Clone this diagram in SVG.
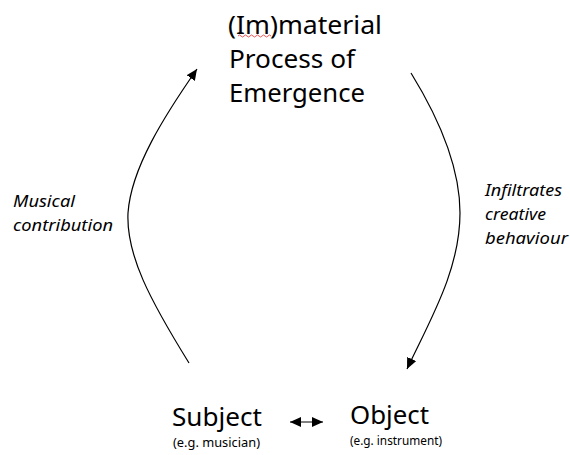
<svg xmlns="http://www.w3.org/2000/svg" width="570" height="455" viewBox="0 0 570 455">
<style>
text{font-family:"Noto Sans","Open Sans","Liberation Sans",sans-serif;fill:#000}
.big{font-size:26px}
.lbl{font-size:17px;font-style:italic}
.sub{font-size:12px}
.conn{fill:none;stroke:#000;stroke-width:1.2}
</style>
<defs>
<marker id="ah" markerUnits="userSpaceOnUse" markerWidth="12" markerHeight="10" refX="11" refY="5" orient="auto-start-reverse">
<path d="M0,0 L11,5 L0,10 Z" fill="#000"/>
</marker>
</defs>
<rect width="570" height="455" fill="#fff"/>
<g id="process">
<text class="big" x="228" y="34" textLength="154" lengthAdjust="spacingAndGlyphs">(Im)material</text>
<path d="M238,36 q1.5,-2 3,0 t3,0 t3,0 t3,0 t3,0 t3,0 t3,0 t3,0 t3,0 t3,0 t3,0" fill="none" stroke="#e03030" stroke-width="0.8"/>
<text class="big" x="229" y="68" textLength="126" lengthAdjust="spacingAndGlyphs">Process of</text>
<text class="big" x="229" y="102" textLength="136" lengthAdjust="spacingAndGlyphs">Emergence</text>
</g>
<g id="subject">
<text class="big" x="172" y="426" textLength="90" lengthAdjust="spacingAndGlyphs">Subject</text>
<text class="sub" x="173" y="447" textLength="87" lengthAdjust="spacingAndGlyphs">(e.g. musician)</text>
</g>
<g id="object">
<text class="big" x="350" y="424" textLength="79" lengthAdjust="spacingAndGlyphs">Object</text>
<text class="sub" x="350" y="445" textLength="92" lengthAdjust="spacingAndGlyphs">(e.g. instrument)</text>
</g>
<g id="connectors">
<path class="conn" d="M189,363 C150,300 126,255 128,213 C131,168 165,115 197,69" marker-end="url(#ah)"/>
<text class="lbl" x="13" y="207" textLength="62" lengthAdjust="spacingAndGlyphs">Musical</text>
<text class="lbl" x="13" y="231" textLength="100" lengthAdjust="spacingAndGlyphs">contribution</text>
<path class="conn" d="M411,73 C440,120 460,170 460,213 C460,270 430,320 407,369" marker-end="url(#ah)"/>
<text class="lbl" x="485" y="196" textLength="77" lengthAdjust="spacingAndGlyphs">Infiltrates</text>
<text class="lbl" x="485" y="220" textLength="61" lengthAdjust="spacingAndGlyphs">creative</text>
<text class="lbl" x="485" y="244" textLength="83" lengthAdjust="spacingAndGlyphs">behaviour</text>
<path class="conn" d="M290,422 L323,422" marker-start="url(#ah)" marker-end="url(#ah)" style="stroke-width:1"/>
</g>
</svg>
